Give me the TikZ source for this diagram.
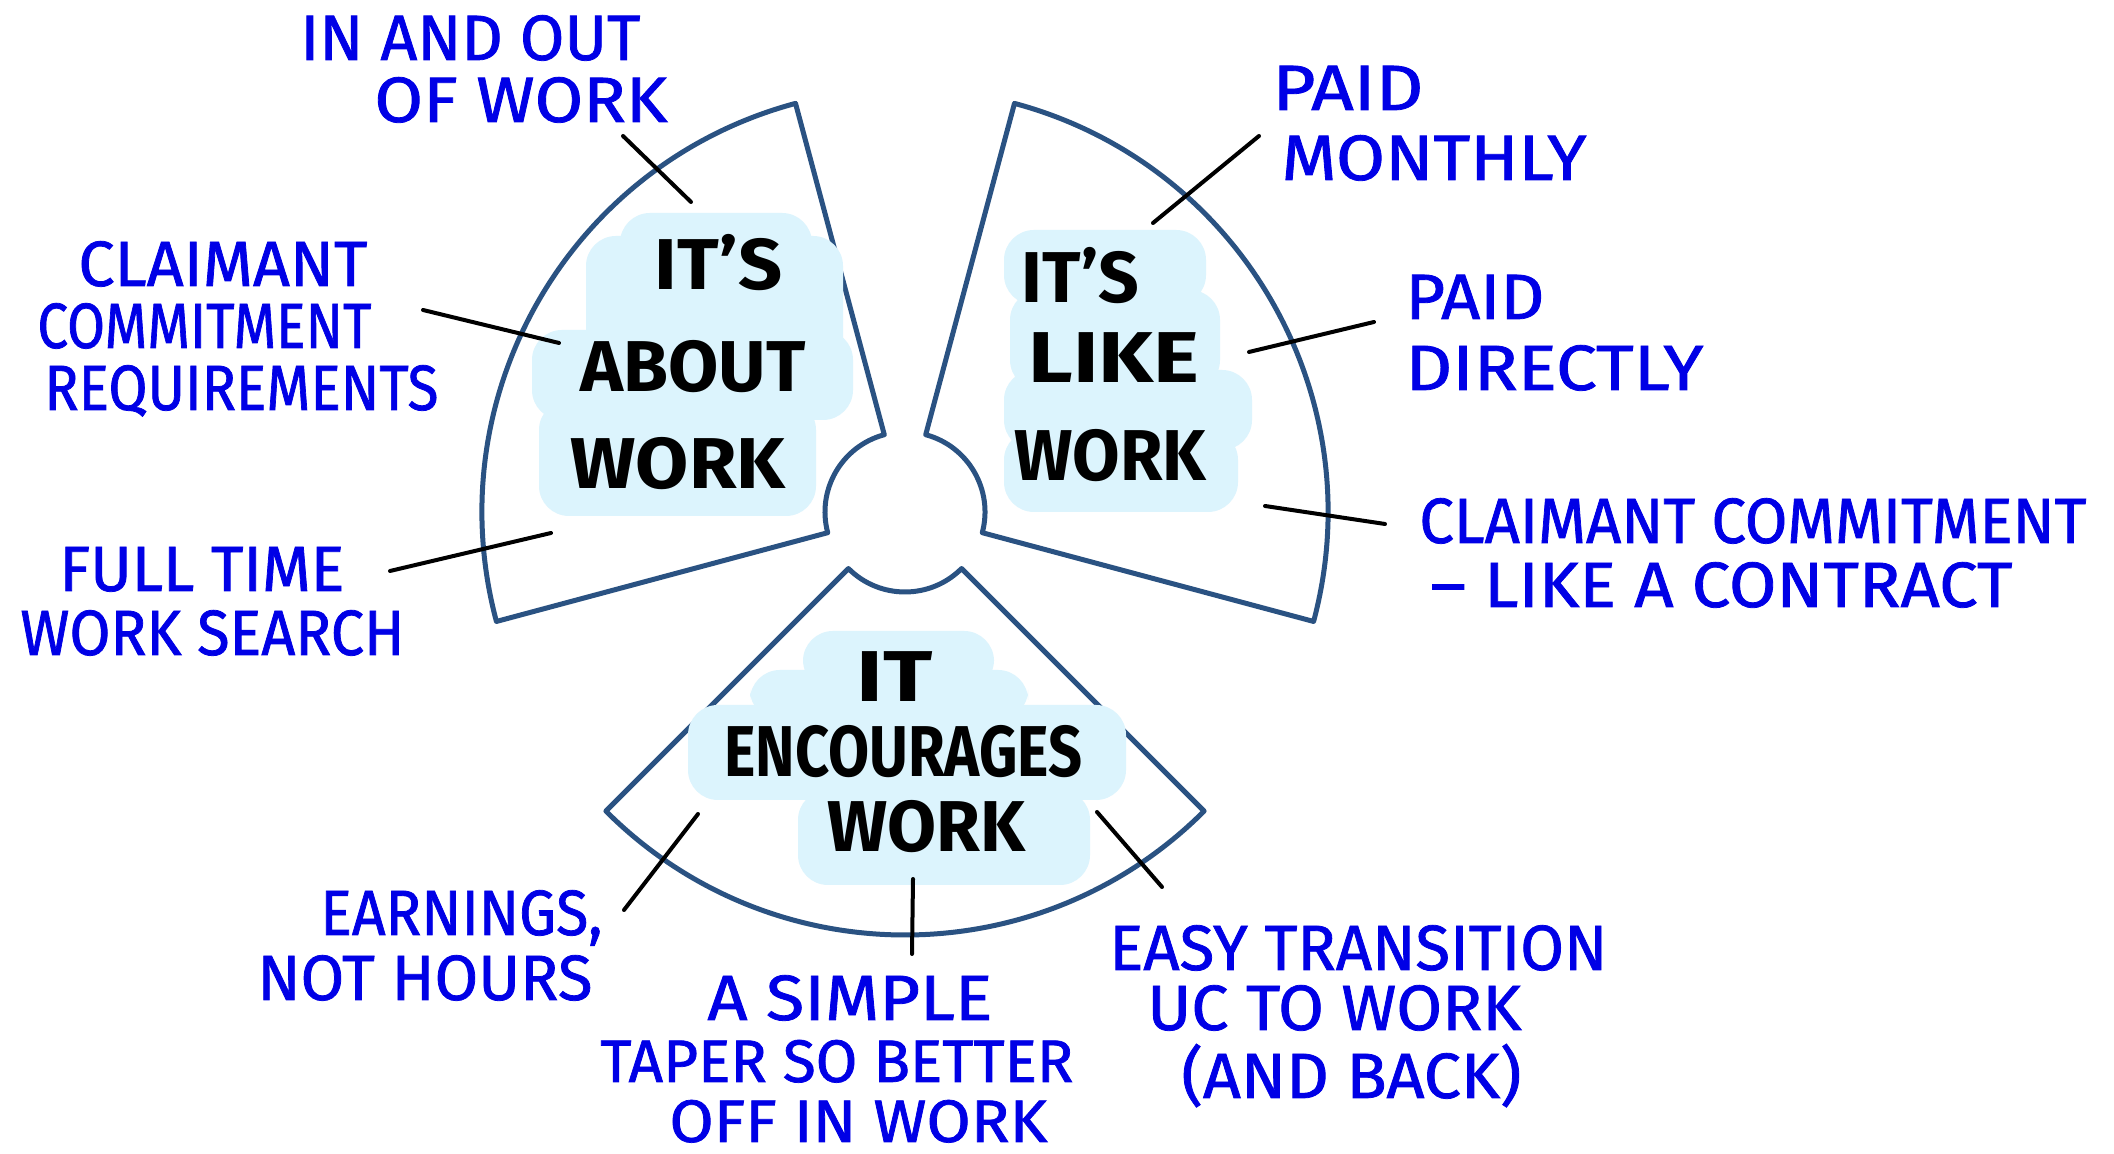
\documentclass[tikz,border=0pt]{standalone}
\usepackage{fontspec}
\setmainfont{Fira Sans}
\newfontfamily\handfont{Fira Sans}[FakeBold=1.2]
\usepackage{graphicx}
\usetikzlibrary{calc}
\definecolor{outl}{RGB}{42,82,130}
\definecolor{inkblue}{RGB}{0,0,230}
\definecolor{blobc}{RGB}{220,244,253}
\newcommand\fitw[2]{\resizebox{#1}{\height}{#2}}
\tikzset{
  sector/.style={draw=outl, line width=2.5pt, line join=round},
  blob/.style={fill=blobc, rounded corners=15pt},
  note/.style={text=inkblue, font=\handfont\fontsize{32}{36}\selectfont, anchor=base west, inner sep=0pt},
  smallnote/.style={note, font=\handfont\fontsize{30}{32}\selectfont},
  head/.style={text=black, font=\fontsize{36}{40}\selectfont\bfseries, anchor=base west, inner sep=0pt},
  conn/.style={draw=black, line width=2pt, line cap=round}
}
\begin{document}
\begin{tikzpicture}[x=0.5pt,y=0.5pt]
\useasboundingbox[fill=white] (0,0) rectangle (2114,1154);
\coordinate (C) at (905,642);
% sectors
\draw[sector] ($(C)+(105:211.5pt)$) arc[start angle=105,end angle=195,radius=211.5pt]
  -- ($(C)+(195:40pt)$) arc[start angle=195,end angle=105,radius=40pt] -- cycle;
\draw[sector] ($(C)+(-15:211.5pt)$) arc[start angle=-15,end angle=75,radius=211.5pt]
  -- ($(C)+(75:40pt)$) arc[start angle=75,end angle=-15,radius=40pt] -- cycle;
\draw[sector] ($(C)+(225:211.5pt)$) arc[start angle=225,end angle=315,radius=211.5pt]
  -- ($(C)+(315:40pt)$) arc[start angle=315,end angle=225,radius=40pt] -- cycle;
% blobs
\fill[blob] (620,854) rectangle (812,941);
\fill[blob] (586,784) rectangle (843,918);
\fill[blob] (532,734) rectangle (853,824);
\fill[blob] (539,638) rectangle (816,754);
\fill[blob] (1004,849) rectangle (1206,924);
\fill[blob] (1010,764) rectangle (1220,864);
\fill[blob] (1004,704) rectangle (1252,784);
\fill[blob] (1004,642) rectangle (1238,724);
\fill[blob] (803,464) rectangle (994,523);
\fill[blob] (750,434) rectangle (1028,484);
\fill[blob] (688,354) rectangle (1126,449);
\fill[blob] (798,269) rectangle (1090,364);
% headings
\node[head] (k1) at (654,864) {\fitw{64pt}{IT’S}};
\node[head] (k2) at (580,762) {\fitw{112.5pt}{ABOUT}};
\node[head] (k3) at (570,665) {\fitw{107.5pt}{WORK}};
\node[head] (k4) at (1021,851) {\fitw{59pt}{IT’S}};
\node[head] (k5) at (1028,771) {\fitw{85.5pt}{LIKE}};
\node[head] (k6) at (1014,673) {\fitw{96pt}{WORK}};
\node[head] (k7) at (856,452) {\fitw{38pt}{IT}};
\node[head] (k8) at (724,377) {\fitw{179pt}{ENCOURAGES}};
\node[head] (k9) at (827,302) {\fitw{99pt}{WORK}};
% notes
\node[note] (l1) at (300,1094) {\fitw{170pt}{IN AND OUT}};
\node[note] (l2) at (374,1032) {\fitw{146.5pt}{OF WORK}};
\node[note] (l3) at (78,868) {\fitw{144.5pt}{CLAIMANT}};
\node[note] (l4) at (37,806) {\fitw{167pt}{COMMITMENT}};
\node[note] (l5) at (44,744) {\fitw{197pt}{REQUIREMENTS}};
\node[note] (l6) at (59,563) {\fitw{142.5pt}{FULL TIME}};
\node[note] (l7) at (20,499) {\fitw{192pt}{WORK SEARCH}};
\node[note] (r1) at (1272,1044) {\fitw{75.5pt}{PAID}};
\node[note] (r2) at (1281,974) {\fitw{152.5pt}{MONTHLY}};
\node[note] (r3) at (1405,835) {\fitw{69.5pt}{PAID}};
\node[note] (r4) at (1405,764) {\fitw{149pt}{DIRECTLY}};
\node[note] (r5) at (1419,611) {\fitw{333.5pt}{CLAIMANT COMMITMENT}};
\node[note] (r6) at (1430,547) {\fitw{291pt}{– LIKE A CONTRACT}};
\node[note] (b1) at (320,219) {\fitw{141pt}{EARNINGS,}};
\node[note] (b2) at (257,154) {\fitw{167.5pt}{NOT HOURS}};
\node[note] (b3) at (707,134) {\fitw{142.5pt}{A SIMPLE}};
\node[smallnote] (b4) at (600,72) {\fitw{236.5pt}{TAPER SO BETTER}};
\node[smallnote] (b5) at (669,12) {\fitw{189pt}{OFF IN WORK}};
\node[note] (b6) at (1109,184) {\fitw{249pt}{EASY TRANSITION}};
\node[note] (b7) at (1147,124) {\fitw{187pt}{UC TO WORK}};
\node[note] (b8) at (1181,56) {\fitw{170pt}{(AND BACK)}};
% connector ends
\coordinate (c1a) at (623,1018); \coordinate (c1b) at (691,952);
\coordinate (c2a) at (423,844);  \coordinate (c2b) at (559,811);
\coordinate (c3a) at (390,583);  \coordinate (c3b) at (551,621);
\coordinate (c4a) at (1259,1018); \coordinate (c4b) at (1153,931);
\coordinate (c5a) at (1249,802); \coordinate (c5b) at (1374,832);
\coordinate (c6a) at (1265,648); \coordinate (c6b) at (1385,630);
\coordinate (c7a) at (698,340);  \coordinate (c7b) at (624,244);
\coordinate (c8a) at (913,275);  \coordinate (c8b) at (912,200);
\coordinate (c9a) at (1097,342); \coordinate (c9b) at (1162,267);
\draw[conn] (c1a) -- (c1b);
\draw[conn] (c2a) -- (c2b);
\draw[conn] (c3a) -- (c3b);
\draw[conn] (c4a) -- (c4b);
\draw[conn] (c5a) -- (c5b);
\draw[conn] (c6a) -- (c6b);
\draw[conn] (c7a) -- (c7b);
\draw[conn] (c8a) -- (c8b);
\draw[conn] (c9a) -- (c9b);
\end{tikzpicture}
\end{document}
